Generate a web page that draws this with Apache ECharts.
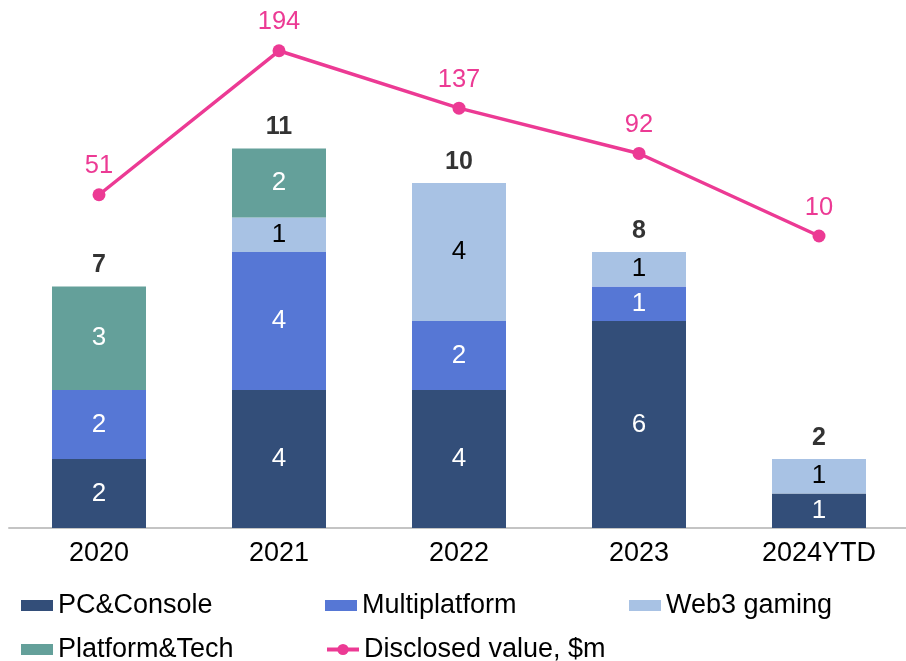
<!DOCTYPE html>
<html>
<head>
<meta charset="utf-8">
<script src="https://cdn.jsdelivr.net/npm/echarts@6/dist/echarts.min.js"></script>
<style>
html,body{margin:0;padding:0;background:#fff;}
#chart{width:906px;height:661px;}
</style>
</head>
<body>
<div id="chart"></div>
<script>
const categories = ['2020', '2021', '2022', '2023', '2024YTD'];
const pcConsole = [2, 4, 4, 6, 1];
const multiplatform = [2, 4, 2, 1, 0];
const web3Gaming = [0, 1, 4, 1, 1];
const platformTech = [3, 2, 0, 0, 0];
const disclosedValue = [51, 194, 137, 92, 10];

const totals = categories.map((_, i) => pcConsole[i] + multiplatform[i] + web3Gaming[i] + platformTech[i]);

const FONT = '"Liberation Sans", Arial, Helvetica, sans-serif';
const colors = {
  pc: '#334e79',
  multi: '#5677d5',
  web3: '#a8c2e4',
  plat: '#64a09a',
  line: '#ec3a94'
};

function barSeries(name, data, color, labelColor) {
  return {
    name: name,
    type: 'bar',
    stack: 'deals',
    data: data,
    barWidth: 94,
    itemStyle: { color: color },
    label: {
      show: true,
      position: 'inside',
      color: labelColor,
      fontFamily: FONT,
      fontSize: 26,
      formatter: p => (p.value ? String(p.value) : '')
    },
    emphasis: { disabled: true }
  };
}

const chart = echarts.init(document.getElementById('chart'), null, { renderer: 'canvas' });

function barLegend(name, left, top) {
  return {
    data: [name],
    left: left,
    top: top,
    itemWidth: 32,
    itemHeight: 11,
    itemGap: 0,
    padding: 0,
    icon: 'rect',
    selectedMode: false,
    textStyle: { fontFamily: FONT, fontSize: 27, color: '#000' }
  };
}

chart.setOption({
  animation: false,
  backgroundColor: '#fff',
  grid: {
    left: 9,
    width: 900,
    top: 10.5,
    bottom: 133,
    containLabel: false,
    outerBoundsMode: 'none'
  },
  legend: [
    barLegend('PC&Console', 21, 592),
    barLegend('Multiplatform', 325, 592),
    barLegend('Web3 gaming', 629, 592),
    barLegend('Platform&Tech', 21, 636),
    {
      data: ['Disclosed value, $m'],
      left: 325,
      top: 636,
      itemWidth: 32,
      itemHeight: 14,
      itemGap: 0,
      padding: 0,
      selectedMode: false,
      lineStyle: { width: 4 },
      textStyle: { fontFamily: FONT, fontSize: 27, color: '#000' }
    }
  ],
  xAxis: {
    type: 'category',
    data: categories,
    axisLine: { show: true, lineStyle: { color: '#c4c4c4', width: 2 } },
    axisTick: { show: false },
    axisLabel: { fontFamily: FONT, fontSize: 27, color: '#000', margin: 12 },
    splitLine: { show: false }
  },
  yAxis: [
    { type: 'value', min: 0, max: 15, show: false, splitLine: { show: false } },
    { type: 'value', min: -280, max: 234, show: false, splitLine: { show: false } }
  ],
  series: [
    barSeries('PC&Console', pcConsole, colors.pc, '#fff'),
    barSeries('Multiplatform', multiplatform, colors.multi, '#fff'),
    barSeries('Web3 gaming', web3Gaming, colors.web3, '#000'),
    barSeries('Platform&Tech', platformTech, colors.plat, '#fff'),
    {
      name: 'Totals',
      type: 'scatter',
      data: totals,
      symbolSize: 1,
      itemStyle: { color: 'rgba(0,0,0,0)' },
      label: {
        show: true,
        position: 'top',
        distance: 8,
        color: '#000',
        fontFamily: FONT,
        fontSize: 25,
        fontWeight: 'bold'
      },
      silent: true,
      z: 5
    },
    {
      name: 'Disclosed value, $m',
      type: 'line',
      yAxisIndex: 1,
      data: disclosedValue,
      symbol: 'circle',
      symbolSize: 13,
      lineStyle: { color: colors.line, width: 3.5 },
      itemStyle: { color: colors.line },
      label: {
        show: true,
        position: 'top',
        distance: 9,
        color: colors.line,
        fontFamily: FONT,
        fontSize: 25.5
      },
      z: 6
    }
  ]
});
</script>
</body>
</html>
